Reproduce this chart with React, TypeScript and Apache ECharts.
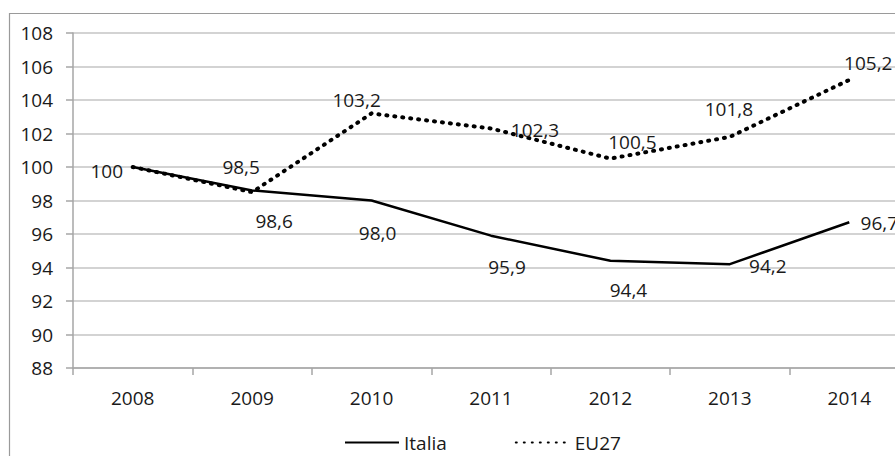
import React, { useEffect, useRef } from "react";
import * as echarts from "echarts";

const years = ["2008", "2009", "2010", "2011", "2012", "2013", "2014"];
const italia = [100, 98.6, 98.0, 95.9, 94.4, 94.2, 96.7];
const eu27 = [100, 98.5, 103.2, 102.3, 100.5, 101.8, 105.2];

// label placement (offsets from the point, px) – styling only
const italiaLabelOffset = [[-26, 4], [22, 31], [6, 32], [16, 31], [18, 29], [38, 2], [30, 1]];
const eu27LabelOffset = [[0, 0], [-11, -25], [-15, -13], [44, 2], [22, -17], [-1, -28], [19, -17]];
const eu27LabelShow = [false, true, true, true, true, true, true];

const FONT = "'Open Sans', sans-serif";
const TEXT = "#1a1a1a";

const fmt = (v: number) => (v === 100 ? "100" : v.toFixed(1).replace(".", ","));

export default function App() {
  const ref = useRef<HTMLDivElement>(null);
  useEffect(() => {
    if (!ref.current) return;
    const chart = echarts.init(ref.current, undefined, { renderer: "svg" });
    const labelBase = {
      show: true,
      position: "inside",
      fontFamily: FONT,
      fontSize: 19,
      color: TEXT,
      formatter: (p: any) => fmt(p.value),
    };
    chart.setOption({
      animation: false,
      backgroundColor: "#fff",
      graphic: [
        {
          type: "rect",
          shape: { x: 9.5, y: 13.5, width: 1200, height: 1000 },
          style: { fill: "none", stroke: "#9a9a9a", lineWidth: 1.2 },
          silent: true,
        },
      ],
      grid: { left: 73, right: 11, top: 33, bottom: 88 },
      legend: {
        left: 339,
        top: 428,
        itemWidth: 54,
        itemHeight: 14,
        itemGap: 68,
        textStyle: { fontFamily: FONT, fontSize: 19, color: TEXT },
        data: ["Italia", "EU27"],
      },
      xAxis: {
        type: "category",
        data: years,
        boundaryGap: true,
        axisLine: { lineStyle: { color: "#a6a6a6", width: 1.5 } },
        axisTick: { show: true, length: 7, lineStyle: { color: "#a6a6a6", width: 1.5 } },
        axisLabel: { fontFamily: FONT, fontSize: 19, color: TEXT, margin: 20 },
      },
      yAxis: {
        type: "value",
        min: 88,
        max: 108,
        interval: 2,
        axisLine: { show: true, lineStyle: { color: "#a6a6a6", width: 1.5 } },
        axisTick: { show: true, length: 7, lineStyle: { color: "#a6a6a6", width: 1.5 } },
        splitLine: { lineStyle: { color: "#c4c4c4", width: 1.5 } },
        axisLabel: { fontFamily: FONT, fontSize: 19, color: TEXT, margin: 20 },
      },
      series: [
        {
          name: "Italia",
          type: "line",
          symbol: "circle",
          symbolSize: 0.1,
          showSymbol: true,
          color: "#000",
          itemStyle: { color: "rgba(0,0,0,0)" },
          lineStyle: { color: "#000", width: 2.5 },
          data: italia.map((v, i) => ({
            value: v,
            label: { ...labelBase, offset: italiaLabelOffset[i] },
          })),
          z: 3,
        },
        {
          name: "EU27",
          type: "line",
          symbol: "circle",
          symbolSize: 0.1,
          showSymbol: true,
          color: "#000",
          itemStyle: { color: "rgba(0,0,0,0)" },
          lineStyle: { color: "#000", width: 4, type: [1, 7], cap: "round" },
          data: eu27.map((v, i) => ({
            value: v,
            label: { ...labelBase, show: eu27LabelShow[i], offset: eu27LabelOffset[i] },
          })),
          z: 2,
        },
      ],
    });
    return () => chart.dispose();
  }, []);
  return (
    <div
      style={{
        position: "fixed",
        left: 0,
        top: 0,
        width: 895,
        height: 456,
        overflow: "hidden",
        background: "#fff",
      }}
    >
      <div ref={ref} style={{ width: 920, height: 456 }} />
    </div>
  );
}
